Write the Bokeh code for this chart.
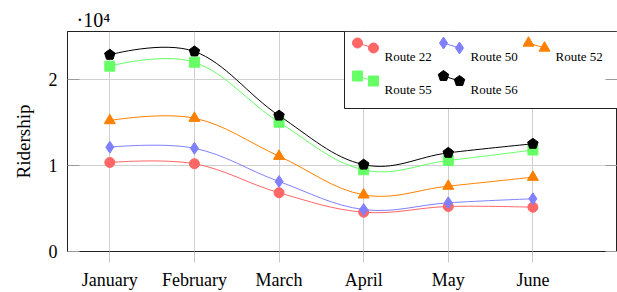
import numpy as np
from bokeh.plotting import figure
from bokeh.models import FixedTicker, LinearAxis, Range1d
from bokeh.core.properties import value
from bokeh.embed import file_html
from bokeh.resources import INLINE

# ---------------- data ----------------
months = ["January", "February", "March", "April", "May", "June"]
route_22 = [10350, 10200, 6830, 4570, 5230, 5150]
route_50 = [12130, 12000, 8140, 4880, 5660, 6130]
route_52 = [15230, 15500, 11080, 6590, 7600, 8640]
route_55 = [21550, 22000, 15030, 9500, 10580, 11800]
route_56 = [22870, 23260, 15800, 10100, 11470, 12520]
series_names = ["Route 22", "Route 50", "Route 52", "Route 55", "Route 56"]
y_ticks = [0, 10000, 20000]
y_tick_labels = ["0", "1", "2"]

colors = ["#ff6666", "#8080ff", "#ff8000", "#66ff66", "#000000"]
markers = ["circle", "diamond", "triangle", "square", "pentagon"]
msizes = [10, 12, 11, 10, 5.5]

FONT = "Liberation Serif"
X0, X1 = -0.5, 6.0
Y0, Y1 = 0, 25580

# window-pixel -> data helpers (for legend layout)
FL, FR, FT, FB = 67, 617, 31, 251
def px2x(px):
    return X0 + (px - FL) / (FR - FL) * (X1 - X0)
def py2y(py):
    return Y0 + (FB - py) / (FB - FT) * (Y1 - Y0)

p = figure(width=617, height=292, output_backend="svg", toolbar_location=None,
           x_range=Range1d(X0, X1), y_range=Range1d(Y0, Y1),
           min_border_left=67, min_border_right=0, min_border_top=31, min_border_bottom=41)
p.background_fill_color = "white"
p.outline_line_color = "#222222"
p.outline_line_width = 1

# multiplier shown as title
p.title.text = "·10⁴"
p.title.align = "left"
p.title.offset = 9
p.title.standoff = 2
p.title.text_font = FONT
p.title.text_font_size = "20px"
p.title.text_font_style = "normal"
p.title.text_color = "black"

# axes
p.xaxis.ticker = FixedTicker(ticks=list(range(len(months))))
p.xaxis.major_label_overrides = {i: m for i, m in enumerate(months)}
p.xaxis.major_tick_out = 11
p.xaxis.major_tick_in = 0
p.xaxis.minor_tick_out = 0
p.xaxis.minor_tick_in = 0
p.xaxis.major_tick_line_color = "#c8c8c8"
p.xaxis.axis_line_color = "#222222"
p.xaxis.major_label_standoff = 7
p.xaxis.major_label_text_font = FONT
p.xaxis.major_label_text_font_size = "18px"
p.xaxis.major_label_text_color = "black"

p.yaxis.ticker = FixedTicker(ticks=y_ticks)
p.yaxis.major_label_overrides = {t: l for t, l in zip(y_ticks, y_tick_labels)}
p.yaxis.major_tick_in = 12
p.yaxis.major_tick_out = 0
p.yaxis.minor_tick_in = 0
p.yaxis.minor_tick_out = 0
p.yaxis.major_tick_line_color = "#999999"
p.yaxis.axis_line_color = "#222222"
p.yaxis.major_label_standoff = 10
p.yaxis.major_label_text_font = FONT
p.yaxis.major_label_text_font_size = "18px"
p.yaxis.major_label_text_color = "black"
p.yaxis.axis_label = "Ridership"
p.yaxis.axis_label_text_font = FONT
p.yaxis.axis_label_text_font_size = "19px"
p.yaxis.axis_label_text_font_style = "normal"
p.yaxis.axis_label_text_color = "black"
p.yaxis.axis_label_standoff = 12

ry = LinearAxis(ticker=FixedTicker(ticks=y_ticks),
                major_label_overrides={t: "" for t in y_ticks},
                major_tick_in=12, major_tick_out=0, minor_tick_in=0, minor_tick_out=0,
                major_tick_line_color="#999999", axis_line_color=None,
                major_label_standoff=0, major_label_text_font_size="0px")
p.add_layout(ry, "right")

p.xgrid.ticker = FixedTicker(ticks=list(range(len(months))))
p.ygrid.ticker = FixedTicker(ticks=y_ticks)
p.grid.grid_line_color = "#d0d0d0"
p.grid.grid_line_width = 1

# ---------------- smooth curves + marks ----------------
TENSION = 0.55 / 3
xs = np.arange(len(months), dtype=float)

def bezier_parts(x, y, t=TENSION):
    x = np.asarray(x, float); y = np.asarray(y, float)
    n = len(x)
    out = {k: [] for k in ["x0", "y0", "x1", "y1", "cx0", "cy0", "cx1", "cy1"]}
    for i in range(n - 1):
        if i == 0:
            c0x, c0y = x[0], y[0]
        else:
            c0x = x[i] + t * (x[i + 1] - x[i - 1]); c0y = y[i] + t * (y[i + 1] - y[i - 1])
        if i + 1 == n - 1:
            c1x, c1y = x[n - 1], y[n - 1]
        else:
            c1x = x[i + 1] - t * (x[i + 2] - x[i]); c1y = y[i + 1] - t * (y[i + 2] - y[i])
        out["x0"].append(x[i]); out["y0"].append(y[i])
        out["x1"].append(x[i + 1]); out["y1"].append(y[i + 1])
        out["cx0"].append(c0x); out["cy0"].append(c0y)
        out["cx1"].append(c1x); out["cy1"].append(c1y)
    return out

PENT_ANGLE = 0.0

def draw_marks(xv, yv, marker, color, size):
    if marker == "pentagon":
        p.ngon(x=xv, y=yv, radius=size, radius_units="screen", n=5, angle=PENT_ANGLE,
               fill_color=color, line_color=color)
    else:
        p.scatter(x=xv, y=yv, marker=marker, size=size, fill_color=color, line_color=color)

all_series = [route_22, route_50, route_52, route_55, route_56]
for vals, col, mk, ms in zip(all_series, colors, markers, msizes):
    b = bezier_parts(xs, vals)
    p.bezier(line_color=col, line_width=1, **b)
    draw_marks(list(xs), vals, mk, col, ms)

# ---------------- legend (manual) ----------------
p.quad(left=[px2x(344)], right=[px2x(700)], top=[py2y(31)], bottom=[py2y(108)],
       fill_color="white", line_color="#222222", line_width=1)
col_x = [357, 443, 528]
row_y = [42.5, 75.5]
for k, (name, col, mk, ms) in enumerate(zip(series_names, colors, markers, msizes)):
    r, c = divmod(k, 3)
    mx1, my1 = col_x[c], row_y[r]
    mx2, my2 = mx1 + 16, my1 + 5
    p.line(x=[px2x(mx1), px2x(mx2)], y=[py2y(my1), py2y(my2)], line_color=col, line_width=1)
    draw_marks([px2x(mx1), px2x(mx2)], [py2y(my1), py2y(my2)], mk, col, ms)
    p.text(x=[px2x(mx1 + 27)], y=[py2y(my1 + 13.5)], text=[name],
           text_font=value(FONT), text_font_size="13px", text_color="black",
           text_baseline="middle", text_align="left")

open("out.html", "w").write(file_html(p, INLINE))
